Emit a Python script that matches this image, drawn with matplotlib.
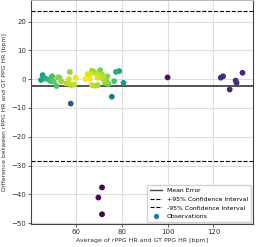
import numpy as np
import matplotlib
matplotlib.use("Agg")
import matplotlib.pyplot as plt
from matplotlib.lines import Line2D

# average HR (x) and difference (y)
avg_hr = [44.5, 45.2, 46.5, 48.0, 49.0, 49.4, 48.7, 50.1, 51.3, 51.9, 52.5, 53.3,
          55.5, 56.4, 56.7, 57.1, 57.7, 57.5, 59.1, 59.7,
          63.9, 64.9, 66.1, 65.8, 66.8, 67.8, 69.0, 69.3, 66.8, 68.3, 69.3, 70.4,
          71.2, 70.7, 71.9, 72.6, 73.3, 74.0, 73.6, 75.5, 76.5, 77.3, 78.7, 80.6,
          99.9, 123.2, 124.2, 127.1, 129.7, 130.1, 132.7,
          71.2, 69.6, 71.2]
diff_hr = [-0.3, 1.4, 0.2, -0.3, 0.6, 1.0, -0.7, -0.9, -2.4, 0.6, 0.6, -0.7,
           -1.5, -1.3, 0.0, 2.5, -2.1, -8.5, -1.9, 0.5,
           0.0, 1.7, 1.7, 0.0, 2.9, 2.5, 1.7, 0.5, -2.1, -2.3, -2.1, 3.1,
           1.7, 0.6, -0.1, -1.3, -0.9, -1.7, 1.0, -6.1, -0.7, 2.5, 2.8, -1.3,
           0.6, 0.5, 1.0, -3.6, -0.5, -1.3, 2.2,
           -37.6, -41.1, -46.9]

mean_err = -2.4
upper_ci = 23.6
lower_ci = -28.4

x = np.array(avg_hr)
y = np.array(diff_hr)

# colour points by a simple 2D gaussian kde (scott bandwidth)
xy = np.vstack([x, y])
n = xy.shape[1]
cov = np.cov(xy) * n ** (-2.0 / 6)
inv = np.linalg.inv(cov)
diffs = xy[:, :, None] - xy[:, None, :]
q = np.einsum("ajk,ab,bjk->jk", diffs, inv, diffs)
dens = np.exp(-0.5 * q).sum(axis=1)
order = dens.argsort()

plt.rcParams["font.size"] = 5
fig = plt.figure(figsize=(2.58, 2.47), dpi=100)
ax = fig.add_axes([0.12, 0.093, 0.859, 0.905])

ax.scatter(x[order], y[order], c=dens[order], cmap="viridis", s=10, zorder=3)
ax.axhline(mean_err, color="#444444", lw=1.3)
ax.axhline(upper_ci, color="black", lw=0.8, ls="--")
ax.axhline(lower_ci, color="black", lw=0.8, ls="--")

ax.set_ylim(-50.3, 27.3)
ax.set_xticks([60, 80, 100, 120])
ax.set_yticks([-50, -40, -30, -20, -10, 0, 10, 20])
ax.grid(True, color="#dddddd", lw=0.8)
ax.set_axisbelow(True)
ax.spines["top"].set_color("#bbbbbb")
for s in ["left", "bottom", "right"]:
    ax.spines[s].set_color("#444444")
ax.tick_params(length=2, width=0.6, pad=1.5, colors="#444444", labelcolor="#333333")
ax.set_xlabel("Average of rPPG HR and GT PPG HR [bpm]", fontsize=4.5, labelpad=2, color="#333333")
ax.set_ylabel("Difference between rPPG HR and GT PPG HR [bpm]", fontsize=4.4, labelpad=3, color="#333333")

handles = [
    Line2D([], [], color="#444444", lw=1.0, label="Mean Error"),
    Line2D([], [], color="black", lw=0.8, ls="--", label="+95% Confidence Interval"),
    Line2D([], [], color="black", lw=0.8, ls="--", label="-95% Confidence Interval"),
    Line2D([], [], color="#1f77b4", marker="o", ls="", ms=2.8, label="Observations"),
]
ax.legend(handles=handles, loc="lower right", fontsize=4.4, handlelength=2.0,
          borderpad=0.5, labelspacing=0.55, handletextpad=0.7, framealpha=0.9,
          borderaxespad=0.3)

fig.savefig("out.png", dpi=100)
